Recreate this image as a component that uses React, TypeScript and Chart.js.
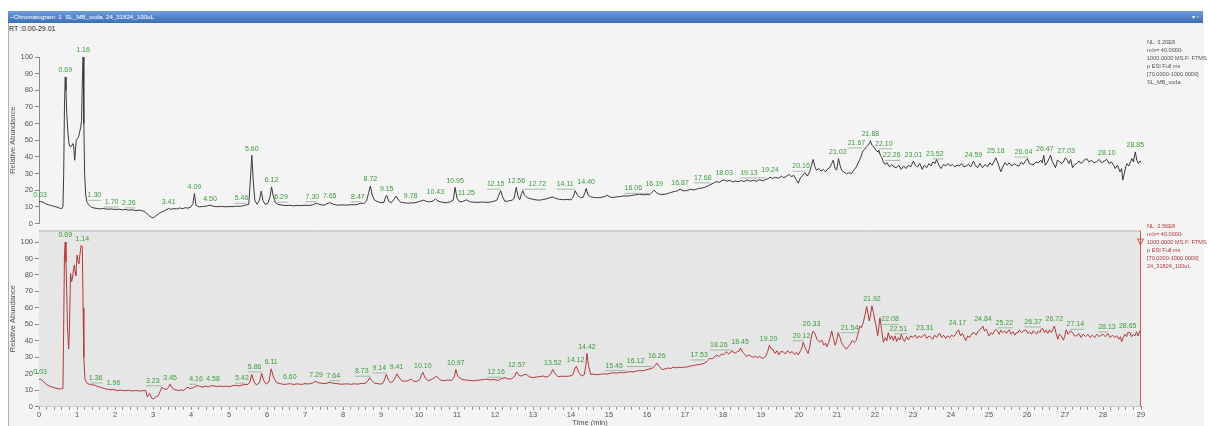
import { useEffect, useRef } from 'react';
import Chart from 'chart.js/auto';

// retention time (min), relative abundance (%)
const topTrace: [number, number][] = [
  [0.00, 13], [0.05, 13.2], [0.10, 12.8], [0.15, 12.2], [0.20, 11.6], [0.25, 11.2], [0.30, 10.9], [0.35, 10.6],
  [0.40, 10.3], [0.45, 10], [0.50, 9.6], [0.55, 9.2], [0.60, 8.9], [0.63, 10], [0.65, 30], [0.67, 70],
  [0.69, 88], [0.71, 80], [0.73, 66], [0.76, 55], [0.79, 48], [0.82, 46], [0.86, 46.5], [0.89, 48],
  [0.91, 47], [0.94, 38], [0.96, 44], [0.98, 50], [1.01, 51], [1.04, 52], [1.07, 55], [1.10, 58],
  [1.12, 62], [1.14, 85], [1.16, 100], [1.18, 60], [1.20, 30], [1.23, 17], [1.26, 13], [1.30, 11.5],
  [1.35, 10.2], [1.40, 9.6], [1.50, 9.1], [1.60, 8.8], [1.70, 9], [1.80, 8.6], [1.90, 8.7], [2.00, 8.4],
  [2.10, 8.6], [2.20, 8.2], [2.26, 8.5], [2.35, 8], [2.45, 8.2], [2.55, 7.8], [2.65, 8], [2.75, 7.4],
  [2.82, 6.5], [2.88, 5], [2.95, 3.8], [3.00, 3.3], [3.05, 4.2], [3.10, 5], [3.15, 5.8], [3.22, 6.8],
  [3.30, 7.6], [3.41, 9], [3.48, 8.5], [3.55, 9], [3.62, 8.7], [3.70, 9.3], [3.78, 8.9], [3.85, 9.5],
  [3.92, 9.2], [4.00, 10], [4.05, 12], [4.09, 18], [4.13, 11], [4.20, 10], [4.30, 10.2], [4.40, 10.4],
  [4.50, 11], [4.60, 10.3], [4.70, 10.1], [4.80, 10.3], [4.90, 10], [5.00, 10.2], [5.10, 10.1], [5.20, 10.4],
  [5.30, 10.3], [5.40, 10.8], [5.46, 11.2], [5.52, 11.5], [5.56, 25], [5.60, 41], [5.64, 25], [5.68, 14],
  [5.74, 11.5], [5.80, 14], [5.85, 19.5], [5.89, 14], [5.95, 11.5], [6.02, 12], [6.08, 16], [6.12, 22],
  [6.16, 17], [6.22, 12.5], [6.29, 11.5], [6.40, 11], [6.50, 10.8], [6.60, 10.9], [6.70, 10.6], [6.80, 10.9],
  [6.90, 10.7], [7.00, 11], [7.10, 10.8], [7.20, 11.2], [7.30, 12.2], [7.40, 11.3], [7.50, 11], [7.65, 12.6],
  [7.75, 11.5], [7.85, 11], [8.00, 11.2], [8.10, 11], [8.20, 11.3], [8.30, 11.2], [8.40, 11.6], [8.47, 12.2],
  [8.55, 12], [8.62, 13.5], [8.67, 18], [8.72, 22.5], [8.77, 17], [8.83, 14], [8.92, 13], [9.00, 12.5],
  [9.08, 12.8], [9.12, 16], [9.15, 17], [9.20, 13.5], [9.27, 12.5], [9.34, 14.5], [9.40, 16.5], [9.46, 14],
  [9.52, 12.8], [9.60, 12.5], [9.70, 12.2], [9.78, 12.4], [9.85, 12.3], [9.95, 12.8], [10.05, 13.5], [10.12, 14],
  [10.20, 13.2], [10.30, 13], [10.37, 13.5], [10.43, 14.8], [10.50, 13.5], [10.60, 12.8], [10.72, 12.5], [10.82, 13],
  [10.90, 14], [10.95, 21.7], [11.00, 15], [11.07, 13], [11.15, 13.2], [11.25, 14.2], [11.35, 13], [11.45, 12.8],
  [11.55, 12.7], [11.65, 12.9], [11.75, 12.7], [11.85, 12.8], [11.95, 13.2], [12.05, 14], [12.10, 17], [12.15, 19.7],
  [12.20, 16], [12.26, 13.3], [12.35, 13.5], [12.45, 14], [12.50, 15], [12.56, 21.7], [12.61, 16], [12.65, 14.3],
  [12.70, 18], [12.73, 19.7], [12.78, 17], [12.85, 15.5], [12.95, 14.8], [13.05, 14.3], [13.15, 14], [13.25, 14.3],
  [13.35, 14.8], [13.45, 15.5], [13.51, 16], [13.60, 15], [13.70, 14.5], [13.80, 14.3], [13.90, 14.4], [14.00, 14.2],
  [14.06, 16], [14.11, 19.7], [14.17, 17], [14.25, 15.5], [14.32, 15.8], [14.36, 18], [14.40, 21.1], [14.45, 17],
  [14.52, 16], [14.62, 15.6], [14.72, 15.5], [14.82, 15.8], [14.90, 16.2], [14.95, 17], [15.02, 16], [15.10, 15.6],
  [15.20, 16], [15.30, 16.2], [15.40, 16.6], [15.50, 16.5], [15.60, 16.9], [15.70, 17.2], [15.80, 17.6], [15.90, 17.2],
  [16.00, 17.5], [16.06, 17.2], [16.12, 18.5], [16.19, 20], [16.25, 18.5], [16.32, 17.6], [16.42, 17.4], [16.52, 17.8],
  [16.62, 18.6], [16.72, 19.2], [16.80, 19.6], [16.87, 20.6], [16.95, 19.6], [17.05, 19.8], [17.15, 20.5], [17.25, 20.2],
  [17.35, 21], [17.45, 21.3], [17.55, 22], [17.62, 22.8], [17.68, 23.5], [17.75, 24.2], [17.82, 25.2], [17.90, 24.6],
  [17.97, 25.8], [18.03, 26.2], [18.10, 25.4], [18.18, 25.9], [18.25, 25], [18.32, 25.5], [18.40, 25.1], [18.48, 25.8],
  [18.56, 25.2], [18.64, 26.2], [18.72, 25.4], [18.80, 26], [18.88, 25.3], [18.96, 26.3], [19.04, 25.6], [19.13, 26.5],
  [19.20, 27], [19.24, 28], [19.30, 27], [19.38, 27.8], [19.46, 27.2], [19.54, 28.4], [19.60, 27.5], [19.68, 28.5],
  [19.74, 29.5], [19.80, 28], [19.86, 29], [19.92, 26.5], [19.98, 24.2], [20.04, 27.5], [20.10, 29], [20.16, 30.5],
  [20.22, 28.5], [20.28, 31], [20.33, 35], [20.37, 38.5], [20.42, 34], [20.46, 32], [20.52, 33], [20.58, 31.5],
  [20.64, 32.5], [20.70, 31], [20.76, 33], [20.81, 33.5], [20.86, 36], [20.90, 38], [20.95, 33], [20.99, 32],
  [21.04, 39], [21.08, 35], [21.12, 32], [21.18, 31], [21.25, 29.8], [21.31, 30.5], [21.38, 30], [21.44, 32],
  [21.51, 34], [21.57, 37], [21.63, 40], [21.67, 43], [21.72, 44.5], [21.77, 46], [21.82, 47], [21.86, 48.5],
  [21.88, 49.7], [21.92, 47], [21.97, 46], [22.02, 44], [22.08, 43], [22.10, 44], [22.14, 41], [22.18, 39.5],
  [22.22, 37], [22.26, 35.5], [22.32, 36.5], [22.38, 34], [22.44, 35.5], [22.50, 34], [22.56, 33.5], [22.62, 35],
  [22.69, 32.5], [22.75, 34.5], [22.82, 33], [22.88, 35], [22.94, 34], [23.01, 37.5], [23.06, 35], [23.12, 34],
  [23.18, 36], [23.24, 32.5], [23.30, 35], [23.36, 33.5], [23.42, 36], [23.48, 34.5], [23.52, 37], [23.58, 36],
  [23.62, 38.5], [23.68, 35], [23.74, 33], [23.80, 35.5], [23.86, 34.5], [23.92, 36], [23.98, 34.5], [24.04, 35.5],
  [24.10, 34], [24.16, 35], [24.22, 34.5], [24.28, 36], [24.34, 34], [24.40, 34.5], [24.46, 35.5], [24.52, 34],
  [24.59, 37.5], [24.64, 35], [24.70, 33.5], [24.76, 36], [24.83, 33.5], [24.90, 35.5], [24.96, 34], [25.02, 36.5],
  [25.08, 35], [25.13, 37], [25.18, 39.5], [25.24, 36], [25.31, 31], [25.36, 34], [25.42, 36.5], [25.48, 35],
  [25.53, 36.5], [25.60, 34.5], [25.66, 36], [25.72, 35], [25.79, 34.5], [25.85, 37], [25.90, 35.5], [25.96, 37.5],
  [26.01, 39], [26.06, 36], [26.12, 35.5], [26.18, 35.5], [26.24, 37], [26.30, 36.5], [26.36, 38], [26.40, 36.5],
  [26.44, 41], [26.48, 35], [26.53, 36.5], [26.58, 39], [26.62, 41], [26.67, 37], [26.71, 35.5], [26.75, 33.5],
  [26.80, 38], [26.86, 37], [26.92, 36], [26.97, 37.5], [27.01, 39.5], [27.06, 38], [27.10, 36], [27.15, 38.5],
  [27.20, 33.5], [27.26, 35.5], [27.31, 36], [27.37, 37.5], [27.43, 36], [27.50, 38], [27.57, 39], [27.63, 37],
  [27.70, 38], [27.76, 36.5], [27.83, 37], [27.90, 38.5], [27.96, 36.5], [28.03, 37.5], [28.10, 38.5], [28.16, 36],
  [28.22, 37], [28.28, 35], [28.32, 33], [28.38, 35], [28.45, 31], [28.49, 33], [28.52, 26], [28.56, 30],
  [28.60, 34], [28.63, 36], [28.68, 34.5], [28.72, 37], [28.76, 39], [28.80, 37], [28.85, 43], [28.89, 38],
  [28.93, 36], [28.97, 37.5], [29.00, 37],
];

const bottomTrace: [number, number][] = [
  [0.00, 16.5], [0.04, 16.8], [0.08, 16], [0.13, 15], [0.18, 13.8], [0.23, 13], [0.30, 12.3], [0.37, 11.8],
  [0.45, 11.2], [0.54, 10.8], [0.60, 10.9], [0.63, 11], [0.65, 50], [0.67, 92], [0.69, 100], [0.71, 88],
  [0.73, 70], [0.75, 48], [0.78, 35], [0.80, 45], [0.83, 81], [0.86, 76], [0.88, 78], [0.91, 84],
  [0.93, 86], [0.95, 82], [0.97, 79.7], [1.00, 92], [1.03, 88], [1.05, 87], [1.08, 93], [1.11, 98],
  [1.14, 97], [1.16, 60], [1.18, 30], [1.21, 16.7], [1.26, 14.5], [1.30, 13.8], [1.36, 13.5], [1.42, 13.2],
  [1.48, 13], [1.55, 12.2], [1.62, 11.8], [1.70, 11.2], [1.75, 10.8], [1.82, 10.5], [1.90, 10.2], [1.96, 10.5],
  [2.05, 9.8], [2.15, 10], [2.25, 9.7], [2.35, 9.9], [2.45, 9.6], [2.55, 9.8], [2.65, 9.5], [2.75, 9.8],
  [2.81, 9.8], [2.85, 5.9], [2.88, 7], [2.91, 8.2], [2.94, 6.5], [2.97, 5], [3.02, 4.8], [3.07, 5.9],
  [3.12, 6.3], [3.16, 7.8], [3.20, 10], [3.23, 11.8], [3.29, 10.8], [3.36, 10.5], [3.40, 11.5], [3.45, 13.7],
  [3.49, 12], [3.53, 10.8], [3.60, 10.2], [3.68, 9.8], [3.75, 10.3], [3.79, 9.8], [3.86, 11], [3.92, 11.8],
  [3.98, 11], [4.05, 11.4], [4.10, 12.2], [4.16, 12.7], [4.23, 12.4], [4.30, 11.8], [4.38, 12.5], [4.45, 12],
  [4.52, 12.6], [4.58, 12.8], [4.66, 12.2], [4.75, 12.5], [4.85, 12.3], [4.93, 12.4], [5.02, 12.2], [5.10, 12.8],
  [5.19, 13], [5.26, 12.6], [5.34, 13.2], [5.42, 13.4], [5.50, 13.6], [5.55, 15], [5.60, 19.6], [5.65, 15.5],
  [5.72, 13.2], [5.80, 14.5], [5.86, 20.2], [5.91, 16], [5.98, 13.7], [6.05, 15], [6.11, 23], [6.17, 18],
  [6.25, 14.6], [6.35, 14], [6.45, 13.5], [6.55, 13.8], [6.60, 14], [6.70, 13.5], [6.80, 13.9], [6.90, 13.5],
  [7.00, 14], [7.10, 13.8], [7.20, 14.3], [7.25, 15.2], [7.29, 15.4], [7.35, 14.5], [7.45, 14.2], [7.55, 14],
  [7.64, 14.9], [7.72, 14.3], [7.82, 14.1], [7.92, 13.7], [8.00, 13.7], [8.10, 13.9], [8.20, 13.6], [8.30, 13.9],
  [8.40, 13.7], [8.48, 14.2], [8.55, 14], [8.62, 14.8], [8.66, 16], [8.70, 17.6], [8.75, 16], [8.83, 14.3],
  [8.92, 14], [9.00, 13.7], [9.06, 14.5], [9.10, 17], [9.14, 19.6], [9.20, 16], [9.25, 14.6], [9.32, 15.5],
  [9.38, 18], [9.42, 20], [9.48, 17.5], [9.55, 15.7], [9.62, 15.4], [9.70, 15.8], [9.76, 16.3], [9.80, 16.7],
  [9.86, 15.5], [9.94, 15.3], [10.02, 16.5], [10.06, 19], [10.10, 21], [10.15, 18], [10.24, 15.7], [10.32, 16.5],
  [10.40, 17.5], [10.46, 18.6], [10.54, 16.5], [10.64, 15.7], [10.75, 16.2], [10.86, 16], [10.93, 18], [10.97, 22.6],
  [11.02, 18.5], [11.12, 16.7], [11.22, 16.2], [11.32, 16], [11.42, 15.7], [11.52, 16], [11.62, 16.3], [11.72, 16.5],
  [11.78, 16.7], [11.88, 16.3], [11.98, 16.5], [12.09, 16], [12.16, 17], [12.26, 17.6], [12.35, 16.8], [12.44, 17],
  [12.52, 18.5], [12.57, 21.2], [12.63, 19], [12.70, 18.6], [12.76, 19.5], [12.83, 19.6], [12.90, 18.2], [13.00, 17.6],
  [13.08, 18], [13.18, 18.3], [13.27, 18.6], [13.34, 18], [13.40, 18.4], [13.47, 20], [13.52, 22.6], [13.58, 20],
  [13.66, 18.2], [13.75, 18.5], [13.85, 18.4], [13.97, 18.6], [14.05, 19.5], [14.10, 23], [14.14, 24.5], [14.20, 21],
  [14.28, 18.6], [14.35, 19.5], [14.39, 25], [14.42, 32.4], [14.46, 25], [14.52, 19.6], [14.60, 19.8], [14.68, 19.4],
  [14.76, 19.6], [14.85, 20], [14.95, 19.8], [15.03, 20.3], [15.11, 20.6], [15.20, 20.4], [15.30, 20.8], [15.38, 20.6],
  [15.46, 21], [15.55, 21.3], [15.64, 21.1], [15.72, 21.6], [15.81, 22], [15.90, 21.8], [16.00, 22.5], [16.08, 23],
  [16.15, 23.5], [16.21, 25], [16.26, 26.5], [16.32, 24.5], [16.40, 22.5], [16.48, 23], [16.56, 23.5], [16.63, 23.2],
  [16.69, 24], [16.76, 23.6], [16.84, 24], [16.92, 23.7], [17.00, 24.2], [17.04, 24], [17.12, 24.6], [17.20, 24.9],
  [17.28, 25.3], [17.35, 25.5], [17.44, 25.9], [17.52, 26.5], [17.58, 27.5], [17.65, 29.4], [17.72, 29], [17.78, 30.5],
  [17.83, 31.4], [17.90, 30.4], [17.96, 32], [18.02, 31.5], [18.09, 33.4], [18.15, 32], [18.22, 33.5], [18.27, 33.3],
  [18.32, 32.5], [18.38, 33.5], [18.43, 33.8], [18.46, 35.6], [18.52, 33], [18.57, 32], [18.62, 30.4], [18.68, 31.5],
  [18.74, 30.5], [18.80, 30], [18.86, 30.8], [18.90, 29.8], [18.96, 30.5], [19.02, 29.6], [19.06, 29.4], [19.12, 30.5],
  [19.17, 33], [19.22, 37.3], [19.27, 35], [19.32, 34.5], [19.37, 32.3], [19.42, 34], [19.47, 31.5], [19.52, 33.5],
  [19.59, 33.3], [19.64, 32], [19.70, 34], [19.76, 32.5], [19.82, 33.5], [19.88, 31.8], [19.93, 33], [19.98, 31.4],
  [20.04, 34], [20.08, 36], [20.11, 39.2], [20.16, 36], [20.20, 34], [20.24, 32.3], [20.28, 36], [20.33, 43],
  [20.37, 46], [20.42, 44.5], [20.47, 41], [20.51, 40], [20.55, 39.2], [20.60, 40.5], [20.65, 37.5], [20.70, 38.5],
  [20.73, 36.3], [20.78, 39], [20.82, 42], [20.86, 46], [20.90, 42], [20.95, 37.3], [20.99, 40], [21.03, 45],
  [21.08, 42], [21.12, 39], [21.16, 37.3], [21.20, 36], [21.25, 35], [21.30, 36.5], [21.35, 38], [21.40, 40.2],
  [21.45, 39], [21.51, 40.5], [21.55, 44], [21.60, 49], [21.64, 48], [21.69, 51], [21.74, 56], [21.78, 60.8],
  [21.82, 56], [21.85, 52], [21.89, 57], [21.92, 61.2], [21.96, 57], [22.00, 52], [22.03, 49], [22.07, 43],
  [22.10, 48], [22.13, 54], [22.17, 47], [22.22, 39.2], [22.27, 42], [22.31, 40], [22.35, 45], [22.40, 41],
  [22.44, 43], [22.48, 40.2], [22.53, 43], [22.57, 39.6], [22.62, 42], [22.66, 40.5], [22.69, 44], [22.74, 41],
  [22.78, 39.6], [22.83, 42.5], [22.88, 40.5], [22.94, 43], [23.00, 42], [23.06, 43.5], [23.11, 41.5], [23.16, 43],
  [23.21, 42], [23.26, 43], [23.31, 44], [23.36, 41.5], [23.42, 43], [23.47, 42], [23.52, 41], [23.57, 43.5],
  [23.62, 42], [23.66, 43.5], [23.70, 44.7], [23.75, 42], [23.80, 43.5], [23.86, 41.5], [23.91, 43], [23.96, 42],
  [24.02, 43.5], [24.07, 42.5], [24.12, 44], [24.17, 46], [24.20, 46.7], [24.25, 43], [24.30, 44.5], [24.35, 42],
  [24.39, 40.2], [24.44, 43], [24.49, 42], [24.55, 44.5], [24.61, 45], [24.66, 43.5], [24.72, 46], [24.77, 47],
  [24.81, 48], [24.84, 49], [24.88, 46], [24.93, 47], [24.97, 44.5], [25.00, 43], [25.05, 45], [25.10, 44],
  [25.14, 46], [25.18, 47], [25.22, 46], [25.27, 44], [25.31, 46.5], [25.36, 45], [25.41, 46], [25.46, 44.5],
  [25.50, 46], [25.53, 46.7], [25.58, 44], [25.63, 45.5], [25.68, 43.5], [25.72, 45], [25.75, 44.7], [25.80, 46.5],
  [25.85, 45], [25.91, 46], [25.97, 46.7], [26.02, 44.5], [26.07, 45.5], [26.12, 44], [26.16, 46], [26.20, 45.5],
  [26.25, 44], [26.30, 46], [26.34, 45], [26.37, 47], [26.41, 47.5], [26.46, 45], [26.50, 46.5], [26.55, 44.5],
  [26.59, 46.7], [26.64, 45], [26.68, 47], [26.72, 49], [26.76, 45], [26.81, 41], [26.85, 44], [26.90, 43],
  [26.96, 40.4], [27.00, 43.5], [27.03, 46.7], [27.08, 44], [27.14, 46], [27.20, 45], [27.25, 43], [27.31, 43],
  [27.36, 44.5], [27.42, 42], [27.48, 44], [27.54, 42.5], [27.60, 44], [27.66, 42], [27.72, 43.5], [27.78, 42],
  [27.84, 44], [27.90, 42.5], [27.95, 43.5], [28.00, 44], [28.06, 42.5], [28.13, 44.5], [28.19, 42], [28.25, 43.5],
  [28.31, 42], [28.36, 43], [28.42, 41], [28.46, 42.5], [28.49, 39.4], [28.53, 42], [28.58, 44], [28.62, 42.5],
  [28.65, 45], [28.71, 45], [28.75, 42.5], [28.80, 44], [28.84, 43], [28.88, 45.5], [28.92, 43], [28.97, 46],
  [29.00, 44],
];

const topPeaks = [
  0.03, 0.69, 1.16, 1.30, 1.70, 2.26, 3.41, 4.09, 4.50, 5.46, 5.60, 6.12, 6.29, 7.30, 7.65, 8.47, 8.72,
  9.15, 9.78, 10.43, 10.95, 11.25, 12.15, 12.56, 12.72, 14.11, 14.40, 16.06, 16.19, 16.87, 17.68, 18.03,
  19.13, 19.24, 20.16, 21.02, 21.67, 21.88, 22.10, 22.26, 23.01, 23.52, 24.59, 25.18, 26.04, 26.47, 27.03,
  28.10, 28.85,
];

const bottomPeaks = [
  0.03, 0.69, 1.14, 1.36, 1.96, 3.23, 3.45, 4.16, 4.58, 5.42, 5.86, 6.11, 6.60, 7.29, 7.64, 8.73, 9.14,
  9.41, 10.10, 10.97, 12.16, 12.57, 13.52, 14.12, 14.42, 15.45, 16.12, 16.26, 17.53, 18.26, 18.45, 19.20,
  20.12, 20.33, 21.54, 21.92, 22.08, 22.51, 23.31, 24.17, 24.84, 25.22, 26.37, 26.72, 27.14, 28.13, 28.65,
];

const topInfo = ['NL: 3.20E8', 'm/z= 40.0000-', '1000.0000 MS  F: FTMS', 'p ESI Full ms', '[70.0000-1000.0000]', 'SL_MB_voda'];
const bottomInfo = ['NL: 2.56E8', 'm/z= 40.0000-', '1000.0000 MS  F: FTMS', 'p ESI Full ms', '[70.0000-1000.0000]', '24_31824_100uL'];

const cursorRt = 29;
const FONT = 'Arial, "Liberation Sans", sans-serif';

// peak labels, tallest first; each one either rises above the trace or slides sideways
// (with a leader line), whichever moves it least, and never covers another label
function peakLabelPlugin(trace: [number, number][], peaks: number[]) {
  return {
    id: 'peakLabels',
    afterDatasetsDraw(chart: any) {
      const { ctx, scales: { x, y } } = chart;
      ctx.save();
      ctx.font = `7px ${FONT}`;
      const pts = trace.map(([t, v]) => [x.getPixelForValue(t), y.getPixelForValue(v)]);
      const traceTop = (l: number, r: number) => {
        let top = Infinity;
        for (let i = 1; i < pts.length; i++) {
          const [x0, y0] = pts[i - 1];
          const [x1, y1] = pts[i];
          if (x1 < l || x0 > r) continue;
          top = Math.min(top, x0 >= l ? y0 : Infinity, x1 <= r ? y1 : Infinity, Math.max(y0, y1));
        }
        return top;
      };
      const items = peaks.map((t) => {
        let v = -1;
        for (const [rt, ab] of trace) if (Math.abs(rt - t) <= 0.05 && ab > v) v = ab;
        if (v < 0) v = trace.reduce((a, b) => (Math.abs(b[0] - t) < Math.abs(a[0] - t) ? b : a))[1];
        const text = t.toFixed(2);
        return { text, v, px: x.getPixelForValue(t), py: y.getPixelForValue(v) - 3, w: ctx.measureText(text).width };
      });
      items.sort((a, b) => b.v - a.v);
      const placed: { l: number; r: number; t: number; b: number }[] = [];
      const hits = (l: number, r: number, t: number, b: number) =>
        placed.some((p) => l < p.r + 3 && r > p.l - 3 && t < p.b + 1 && b > p.t - 1);
      for (const it of items) {
        let best = { d: 0, b: it.py, cost: Infinity };
        for (let k = 0; k <= 120; k++) {
          for (const d of k === 0 ? [0] : [k, -k]) {
            const l = it.px - it.w / 2 + d;
            const b = Math.min(it.py, traceTop(l - 1, l + it.w + 1) - 2);
            if (hits(l, l + it.w, b - 7, b)) continue;
            const cost = Math.abs(d) + 4 * (it.py - b);
            if (cost < best.cost) best = { d, b, cost };
          }
        }
        const { d, b } = best;
        const l = it.px - it.w / 2 + d;
        placed.push({ l, r: l + it.w, t: b - 7, b });
        if (d !== 0) {
          ctx.strokeStyle = '#8fb08f';
          ctx.lineWidth = 0.8;
          ctx.beginPath();
          ctx.moveTo(d > 0 ? it.px : l, b + 1.5);
          ctx.lineTo(d > 0 ? l + it.w : it.px, b + 1.5);
          ctx.stroke();
        }
        ctx.fillStyle = '#3b9b3b';
        ctx.textAlign = 'center';
        ctx.textBaseline = 'bottom';
        ctx.fillText(it.text, it.px + d, b);
      }
      ctx.restore();
    },
  };
}

function yAxis(max: number) {
  return {
    min: 0,
    max,
    afterFit: (s: any) => { s.width = 39; },
    afterBuildTicks: (s: any) => { s.ticks = s.ticks.filter((t: any) => t.value <= 100); },
    title: { display: true, text: 'Relative Abundance', color: '#555', font: { size: 7.5 }, padding: { top: 8, bottom: 0 } },
    ticks: {
      stepSize: 5,
      color: '#555',
      font: { size: 7.5 },
      padding: 2,
      callback: (v: any) => (v % 10 === 0 ? String(v) : ''),
    },
    grid: { drawOnChartArea: false, drawTicks: true, tickLength: 4, color: '#8a8a8a' },
    border: { color: '#8a8a8a' },
  };
}

function TopChart() {
  const chartRef = useRef<HTMLCanvasElement>(null);
  useEffect(() => {
    if (!chartRef.current) return;
    const chart = new Chart(chartRef.current, {
      type: 'line',
      data: {
        datasets: [{
          data: topTrace.map(([x, y]) => ({ x, y })),
          borderColor: '#3a3a3a',
          borderWidth: 1,
          pointRadius: 0,
          tension: 0,
        }],
      },
      options: {
        animation: false,
        responsive: false,
        layout: { padding: { top: 27, right: 67, bottom: 6, left: 0 } },
        plugins: { legend: { display: false }, tooltip: { enabled: false } },
        scales: {
          x: { type: 'linear', min: 0, max: 29, display: false },
          y: yAxis(100) as any,
        },
      },
      plugins: [peakLabelPlugin(topTrace, topPeaks)],
    });
    return () => chart.destroy();
  }, []);
  return <canvas ref={chartRef} width={1208} height={200} style={{ position: 'absolute', left: 0, top: 30 }} />;
}

function BottomChart() {
  const chartRef = useRef<HTMLCanvasElement>(null);
  useEffect(() => {
    if (!chartRef.current) return;
    const background = {
      id: 'background',
      beforeDatasetsDraw(chart: any) {
        const { ctx, chartArea: a } = chart;
        ctx.save();
        ctx.fillStyle = '#e6e6e6';
        ctx.fillRect(a.left, a.top, a.right - a.left, a.bottom - a.top);
        ctx.strokeStyle = '#b8b8b8';
        ctx.beginPath();
        ctx.moveTo(a.left, a.top + 0.5);
        ctx.lineTo(a.right, a.top + 0.5);
        ctx.stroke();
        ctx.restore();
      },
    };
    const cursor = {
      id: 'cursor',
      afterDatasetsDraw(chart: any) {
        const { ctx, chartArea: a, scales: { x, y } } = chart;
        const xp = Math.round(x.getPixelForValue(cursorRt)) - 0.5;
        const yp = y.getPixelForValue(100);
        ctx.save();
        ctx.strokeStyle = '#d9534f';
        ctx.lineWidth = 1;
        ctx.beginPath();
        ctx.moveTo(xp, a.top);
        ctx.lineTo(xp, a.bottom);
        ctx.stroke();
        ctx.beginPath();
        ctx.moveTo(xp - 3, yp - 3);
        ctx.lineTo(xp + 3, yp - 3);
        ctx.lineTo(xp, yp + 3);
        ctx.closePath();
        ctx.stroke();
        ctx.restore();
      },
    };
    const chart = new Chart(chartRef.current, {
      type: 'line',
      data: {
        datasets: [{
          data: bottomTrace.map(([x, y]) => ({ x, y })),
          borderColor: '#b23a3a',
          borderWidth: 1,
          pointRadius: 0,
          tension: 0,
        }],
      },
      options: {
        animation: false,
        responsive: false,
        layout: { padding: { top: 1, right: 67, bottom: 0, left: 0 } },
        plugins: { legend: { display: false }, tooltip: { enabled: false } },
        scales: {
          x: {
            type: 'linear',
            min: 0,
            max: 29,
            afterFit: (s: any) => { s.height = 19.3; },
            title: { display: true, text: 'Time (min)', color: '#555', font: { size: 7.5, lineHeight: 0.8 }, padding: 0 },
            ticks: {
              stepSize: 0.2,
              autoSkip: false,
              maxRotation: 0,
              color: '#4a5666',
              font: { size: 7.5 },
              padding: 1,
              callback: (v: any) => (Math.abs(v - Math.round(v)) < 1e-6 ? String(Math.round(v)) : ''),
            },
            grid: { drawOnChartArea: false, drawTicks: true, tickLength: 3, color: '#8a8a8a' },
            border: { color: '#8a8a8a' },
          },
          y: yAxis(107) as any,
        },
      },
      plugins: [background, cursor, peakLabelPlugin(bottomTrace, bottomPeaks)],
    });
    return () => chart.destroy();
  }, []);
  return <canvas ref={chartRef} width={1208} height={202} style={{ position: 'absolute', left: 0, top: 224 }} />;
}

function InfoBox({ lines, top, color }: { lines: string[]; top: number; color: string }) {
  return (
    <div style={{ position: 'absolute', left: 1147, top, fontSize: 5.6, lineHeight: '8px', color, whiteSpace: 'nowrap' }}>
      {lines.map((l) => <div key={l}>{l}</div>)}
    </div>
  );
}

export default function App() {
  useEffect(() => {
    Chart.defaults.font.family = FONT;
  }, []);
  return (
    <div style={{ position: 'relative', width: 1208, height: 426, background: '#fff', overflow: 'hidden', fontFamily: FONT }}>
      <style>{'body{margin:0}'}</style>
      <div style={{ position: 'absolute', left: 8, top: 11, width: 1195, height: 415, background: '#f4f4f4', borderLeft: '1px solid #b0b0b0' }} />
      <div
        style={{
          position: 'absolute', left: 8, top: 11, width: 1195, height: 12,
          background: 'linear-gradient(#6f9edb, #3d6db5)', color: '#fff', fontSize: 6.2, lineHeight: '12px',
        }}
      >
        <span style={{ marginLeft: 2 }}>~Chromatogram&nbsp; 1&nbsp; SL_MB_voda, 24_31824_100uL</span>
        <span style={{ position: 'absolute', right: 4, top: 0 }}>▾&nbsp;▫</span>
      </div>
      <div style={{ position: 'absolute', left: 9, top: 25, fontSize: 7, color: '#222' }}>RT :0.00-29.01</div>
      <TopChart />
      <BottomChart />
      <InfoBox lines={topInfo} top={38} color="#555" />
      <InfoBox lines={bottomInfo} top={222} color="#b23a3a" />
    </div>
  );
}
